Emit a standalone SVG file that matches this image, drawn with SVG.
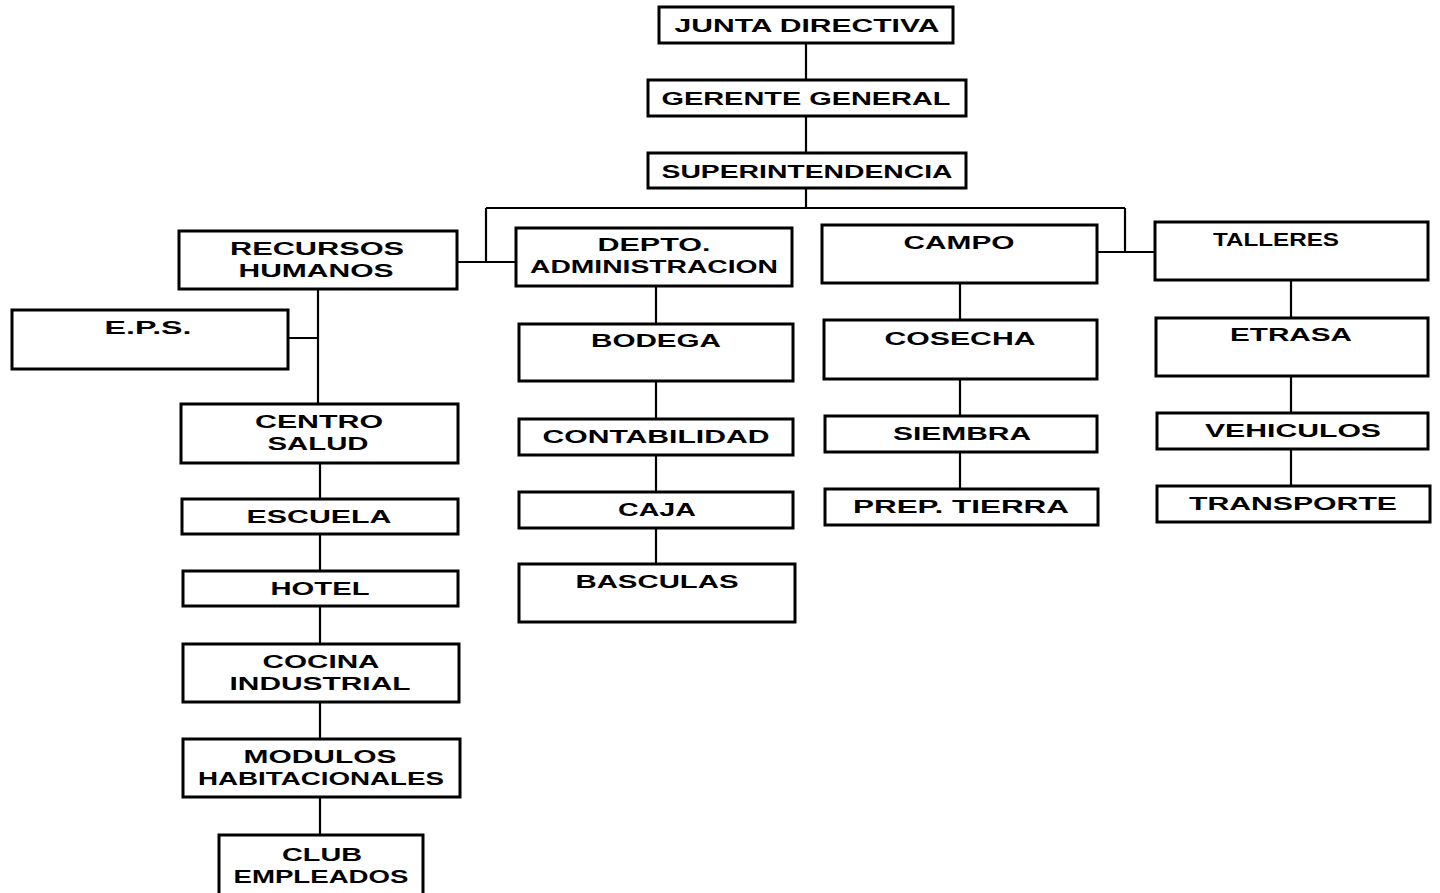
<svg xmlns="http://www.w3.org/2000/svg" width="1440" height="893" viewBox="0 0 1440 893">
<style>
.b{fill:#fff;stroke:#000;stroke-width:3}
.t{font-family:"Liberation Sans",Arial,sans-serif;font-weight:bold;font-size:19px;fill:#000;text-anchor:middle}
.c{fill:none;stroke:#000;stroke-width:2.2}
</style>
<rect width="1440" height="893" fill="#fff"/>
<g id="connectors">
<path class="c" d="M806 43V80M806 116V153M806 188V208M486 208H1125M486 208V262M457 262H516M1125 208V252M1097 252H1155"/>
<path class="c" d="M318 289V404M288 338H318M320 463V499M320 534V571M320 606V644M320 702V739M320 797V835"/>
<path class="c" d="M656 286V324M656 381V419M656 455V492M656 528V564"/>
<path class="c" d="M960 283V320M960 379V416M960 452V489"/>
<path class="c" d="M1291 280V318M1291 376V413M1291 449V486"/>
</g>
<g id="junta"><rect class="b" x="659" y="7" width="294" height="36"/><text class="t" x="807" y="32" textLength="265" lengthAdjust="spacingAndGlyphs">JUNTA DIRECTIVA</text></g>
<g id="gerente"><rect class="b" x="648" y="80" width="318" height="36"/><text class="t" x="806" y="105" textLength="289" lengthAdjust="spacingAndGlyphs">GERENTE GENERAL</text></g>
<g id="super"><rect class="b" x="648" y="153" width="318" height="35"/><text class="t" x="807" y="178" textLength="291" lengthAdjust="spacingAndGlyphs">SUPERINTENDENCIA</text></g>
<g id="rrhh"><rect class="b" x="179" y="231" width="278" height="58"/><text class="t" x="317" y="255" textLength="174" lengthAdjust="spacingAndGlyphs">RECURSOS</text><text class="t" x="316" y="277" textLength="155" lengthAdjust="spacingAndGlyphs">HUMANOS</text></g>
<g id="depto"><rect class="b" x="516" y="228" width="276" height="58"/><text class="t" x="654" y="251" textLength="113" lengthAdjust="spacingAndGlyphs">DEPTO.</text><text class="t" x="654" y="273" textLength="248" lengthAdjust="spacingAndGlyphs">ADMINISTRACION</text></g>
<g id="campo"><rect class="b" x="822" y="225" width="275" height="58"/><text class="t" x="959" y="249" textLength="111" lengthAdjust="spacingAndGlyphs">CAMPO</text></g>
<g id="talleres"><rect class="b" x="1155" y="222" width="273" height="58"/><text class="t" x="1276" y="246" textLength="126" lengthAdjust="spacingAndGlyphs">TALLERES</text></g>
<g id="eps"><rect class="b" x="12" y="310" width="276" height="59"/><text class="t" x="148" y="334" textLength="87" lengthAdjust="spacingAndGlyphs">E.P.S.</text></g>
<g id="centro"><rect class="b" x="181" y="404" width="277" height="59"/><text class="t" x="319" y="428" textLength="128" lengthAdjust="spacingAndGlyphs">CENTRO</text><text class="t" x="318" y="450" textLength="101" lengthAdjust="spacingAndGlyphs">SALUD</text></g>
<g id="escuela"><rect class="b" x="182" y="499" width="276" height="35"/><text class="t" x="319" y="523" textLength="145" lengthAdjust="spacingAndGlyphs">ESCUELA</text></g>
<g id="hotel"><rect class="b" x="183" y="571" width="275" height="35"/><text class="t" x="320" y="595" textLength="99" lengthAdjust="spacingAndGlyphs">HOTEL</text></g>
<g id="cocina"><rect class="b" x="183" y="644" width="276" height="58"/><text class="t" x="321" y="668" textLength="117" lengthAdjust="spacingAndGlyphs">COCINA</text><text class="t" x="320" y="690" textLength="181" lengthAdjust="spacingAndGlyphs">INDUSTRIAL</text></g>
<g id="modulos"><rect class="b" x="183" y="739" width="277" height="58"/><text class="t" x="320" y="763" textLength="153" lengthAdjust="spacingAndGlyphs">MODULOS</text><text class="t" x="321" y="785" textLength="246" lengthAdjust="spacingAndGlyphs">HABITACIONALES</text></g>
<g id="club"><rect class="b" x="219" y="835" width="204" height="62"/><text class="t" x="322" y="861" textLength="80" lengthAdjust="spacingAndGlyphs">CLUB</text><text class="t" x="321" y="883" textLength="175" lengthAdjust="spacingAndGlyphs">EMPLEADOS</text></g>
<g id="bodega"><rect class="b" x="519" y="324" width="274" height="57"/><text class="t" x="656" y="347" textLength="130" lengthAdjust="spacingAndGlyphs">BODEGA</text></g>
<g id="contabilidad"><rect class="b" x="519" y="419" width="274" height="36"/><text class="t" x="656" y="443" textLength="227" lengthAdjust="spacingAndGlyphs">CONTABILIDAD</text></g>
<g id="caja"><rect class="b" x="519" y="492" width="274" height="36"/><text class="t" x="657" y="516" textLength="78" lengthAdjust="spacingAndGlyphs">CAJA</text></g>
<g id="basculas"><rect class="b" x="519" y="564" width="276" height="58"/><text class="t" x="657" y="588" textLength="163" lengthAdjust="spacingAndGlyphs">BASCULAS</text></g>
<g id="cosecha"><rect class="b" x="824" y="320" width="273" height="59"/><text class="t" x="960" y="345" textLength="151" lengthAdjust="spacingAndGlyphs">COSECHA</text></g>
<g id="siembra"><rect class="b" x="825" y="416" width="272" height="36"/><text class="t" x="962" y="440" textLength="138" lengthAdjust="spacingAndGlyphs">SIEMBRA</text></g>
<g id="prep"><rect class="b" x="825" y="489" width="273" height="36"/><text class="t" x="961" y="513" textLength="216" lengthAdjust="spacingAndGlyphs">PREP. TIERRA</text></g>
<g id="etrasa"><rect class="b" x="1156" y="318" width="272" height="58"/><text class="t" x="1291" y="341" textLength="122" lengthAdjust="spacingAndGlyphs">ETRASA</text></g>
<g id="vehiculos"><rect class="b" x="1157" y="413" width="271" height="36"/><text class="t" x="1293" y="437" textLength="176" lengthAdjust="spacingAndGlyphs">VEHICULOS</text></g>
<g id="transporte"><rect class="b" x="1157" y="486" width="273" height="36"/><text class="t" x="1293" y="510" textLength="208" lengthAdjust="spacingAndGlyphs">TRANSPORTE</text></g>
</svg>
